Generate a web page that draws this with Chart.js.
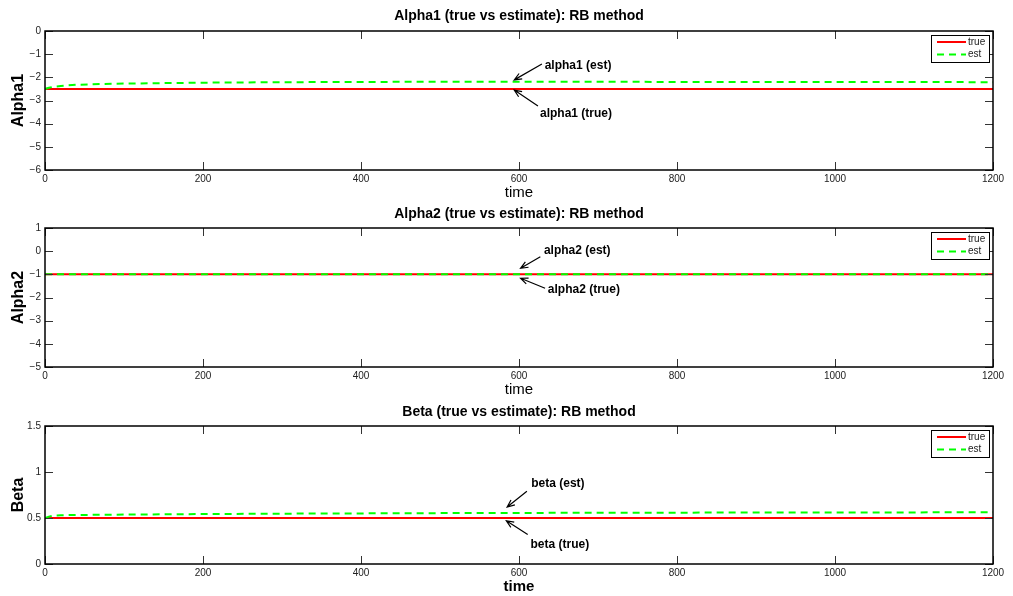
<!DOCTYPE html>
<html>
<head>
<meta charset="utf-8">
<script src="https://cdn.jsdelivr.net/npm/chart.js@4.4.1/dist/chart.umd.min.js"></script>
<style>
  html, body { margin: 0; padding: 0; background: #fff; }
  canvas { display: block; }
</style>
</head>
<body>
<canvas id="alpha1Chart" width="1013" height="200"></canvas>
<canvas id="alpha2Chart" width="1013" height="200"></canvas>
<canvas id="betaChart" width="1013" height="196"></canvas>
<script>
const FONT = "'Liberation Sans', Arial, Helvetica, sans-serif";

// time grid shared by all three panels
const timeSteps = [0, 5, 10, 20, 40, 70, 100, 200, 300, 400, 500, 600, 700, 800, 900, 1000, 1100, 1200];

const alpha1True = [-2.5, -2.5, -2.5, -2.5, -2.5, -2.5, -2.5, -2.5, -2.5, -2.5, -2.5, -2.5, -2.5, -2.5, -2.5, -2.5, -2.5, -2.5];
const alpha1Est = [-2.5, -2.45, -2.41, -2.37, -2.32, -2.29, -2.27, -2.23, -2.21, -2.2, -2.19, -2.19, -2.19, -2.2, -2.2, -2.2, -2.2, -2.21];

const alpha2True = [-1, -1, -1, -1, -1, -1, -1, -1, -1, -1, -1, -1, -1, -1, -1, -1, -1, -1];
const alpha2Est = [-1, -1, -1, -1, -1, -1, -1, -1, -1, -1, -1, -1, -1, -1, -1, -1, -1, -1];

const betaTrue = [0.5, 0.5, 0.5, 0.5, 0.5, 0.5, 0.5, 0.5, 0.5, 0.5, 0.5, 0.5, 0.5, 0.5, 0.5, 0.5, 0.5, 0.5];
const betaEst = [0.5, 0.515, 0.525, 0.53, 0.533, 0.535, 0.537, 0.543, 0.547, 0.55, 0.553, 0.555, 0.557, 0.558, 0.56, 0.56, 0.561, 0.562];

const xTicks = [0, 200, 400, 600, 800, 1000, 1200];
const alpha1Ticks = [-6, -5, -4, -3, -2, -1, 0];
const alpha2Ticks = [-5, -4, -3, -2, -1, 0, 1];
const betaTicks = [0, 0.5, 1, 1.5];

function points(values) {
    return values.map((v, i) => ({ x: timeSteps[i], y: v }));
}

function minusSign(v) {
    return String(v).replace('-', '\u2212');
}

// box around the axes with inward ticks on every side
const framePlugin = {
    id: 'frameTicks',
    afterDatasetsDraw(chart) {
        const { ctx, chartArea: a, scales: { x, y } } = chart;
        const len = 8;
        ctx.save();
        ctx.strokeStyle = '#333';
        ctx.lineWidth = 1;
        ctx.beginPath();
        x.ticks.forEach(t => {
            const px = Math.round(x.getPixelForValue(t.value)) + 0.5;
            ctx.moveTo(px, a.bottom); ctx.lineTo(px, a.bottom - len);
            ctx.moveTo(px, a.top); ctx.lineTo(px, a.top + len);
        });
        y.ticks.forEach(t => {
            const py = Math.round(y.getPixelForValue(t.value)) + 0.5;
            ctx.moveTo(a.left, py); ctx.lineTo(a.left + len, py);
            ctx.moveTo(a.right, py); ctx.lineTo(a.right - len, py);
        });
        ctx.stroke();
        ctx.strokeStyle = '#000';
        ctx.lineWidth = 1.5;
        ctx.strokeRect(a.left, a.top, a.right - a.left, a.bottom - a.top);
        ctx.restore();
    }
};

// small legend box in the upper right corner of the axes
const boxLegendPlugin = {
    id: 'boxLegend',
    afterDatasetsDraw(chart) {
        const { ctx, chartArea: a } = chart;
        const sets = chart.data.datasets;
        const w = 58, rowH = 12.5;
        const h = sets.length * rowH + 2;
        const bx = a.right - w - 4, by = a.top + 4;
        ctx.save();
        ctx.fillStyle = '#fff';
        ctx.fillRect(bx, by, w, h);
        ctx.strokeStyle = '#000';
        ctx.lineWidth = 1;
        ctx.strokeRect(bx + 0.5, by + 0.5, w, h);
        ctx.font = '10px ' + FONT;
        ctx.textBaseline = 'middle';
        sets.forEach((ds, i) => {
            const cy = by + 7 + i * rowH;
            ctx.strokeStyle = ds.borderColor;
            ctx.lineWidth = ds.borderWidth;
            ctx.setLineDash(ds.borderDash || []);
            ctx.beginPath();
            ctx.moveTo(bx + 6, cy);
            ctx.lineTo(bx + 35, cy);
            ctx.stroke();
            ctx.setLineDash([]);
            ctx.fillStyle = '#222';
            ctx.fillText(ds.label, bx + 37, cy);
        });
        ctx.restore();
    }
};

// text notes with arrows, placed in data units
const arrowNotesPlugin = {
    id: 'arrowNotes',
    afterDatasetsDraw(chart, args, opts) {
        const { ctx, scales: { x, y } } = chart;
        ctx.save();
        ctx.font = 'bold 12px ' + FONT;
        ctx.textBaseline = 'middle';
        ctx.fillStyle = '#000';
        ctx.strokeStyle = '#000';
        ctx.lineWidth = 1.2;
        (opts.items || []).forEach(n => {
            ctx.fillText(n.text, x.getPixelForValue(n.tx) + 2, y.getPixelForValue(n.ty));
            const x0 = x.getPixelForValue(n.from[0]), y0 = y.getPixelForValue(n.from[1]);
            const x1 = x.getPixelForValue(n.to[0]), y1 = y.getPixelForValue(n.to[1]);
            const ang = Math.atan2(y1 - y0, x1 - x0);
            const head = 8, spread = 0.4;
            ctx.beginPath();
            ctx.moveTo(x0, y0);
            ctx.lineTo(x1, y1);
            ctx.moveTo(x1 - head * Math.cos(ang - spread), y1 - head * Math.sin(ang - spread));
            ctx.lineTo(x1, y1);
            ctx.lineTo(x1 - head * Math.cos(ang + spread), y1 - head * Math.sin(ang + spread));
            ctx.stroke();
        });
        ctx.restore();
    }
};

function makePanel(id, cfg) {
    const ctx = document.getElementById(id).getContext('2d');
    return new Chart(ctx, {
        type: 'line',
        data: {
            datasets: [{
                label: 'true',
                data: points(cfg.trueValues),
                borderColor: '#ff0000',
                borderWidth: 2,
                pointRadius: 0,
                tension: 0,
                order: 1
            }, {
                label: 'est',
                data: points(cfg.estValues),
                borderColor: '#00ff00',
                borderWidth: 2,
                borderDash: [7, 5],
                pointRadius: 0,
                tension: 0,
                order: 0
            }]
        },
        options: {
            responsive: false,
            animation: false,
            events: [],
            layout: { padding: { left: 0, right: 20, top: 0, bottom: 0 } },
            plugins: {
                legend: { display: false },
                tooltip: { enabled: false },
                title: {
                    display: true,
                    text: cfg.title,
                    fullSize: false,
                    color: '#000',
                    font: { family: FONT, size: 14, weight: 'bold', lineHeight: 1.2 },
                    padding: { top: cfg.titlePad[0], bottom: cfg.titlePad[1] }
                },
                arrowNotes: { items: cfg.notes }
            },
            scales: {
                x: {
                    type: 'linear',
                    min: 0,
                    max: 1200,
                    afterBuildTicks: s => { s.ticks = xTicks.map(v => ({ value: v })); },
                    afterFit: s => { s.height = cfg.xAxisHeight; },
                    grid: { display: false, drawTicks: false, tickLength: 0 },
                    border: { display: false },
                    ticks: {
                        color: '#222',
                        padding: 3,
                        maxRotation: 0,
                        autoSkip: false,
                        font: { family: FONT, size: 10 },
                        callback: v => String(v)
                    },
                    title: {
                        display: true,
                        text: 'time',
                        color: '#000',
                        font: { family: FONT, size: 15, weight: cfg.xTitleWeight, lineHeight: 1 },
                        padding: { top: 0, bottom: cfg.xTitlePad }
                    }
                },
                y: {
                    type: 'linear',
                    min: cfg.yTicks[0],
                    max: cfg.yTicks[cfg.yTicks.length - 1],
                    afterBuildTicks: s => { s.ticks = cfg.yTicks.map(v => ({ value: v })); },
                    afterFit: s => { s.width = 45; },
                    grid: { display: false, drawTicks: false, tickLength: 0 },
                    border: { display: false },
                    ticks: {
                        color: '#222',
                        padding: 4,
                        autoSkip: false,
                        font: { family: FONT, size: 10 },
                        callback: v => minusSign(v)
                    },
                    title: {
                        display: true,
                        text: cfg.yTitle,
                        color: '#000',
                        font: { family: FONT, size: 16, weight: 'bold', lineHeight: 1.2 },
                        padding: { top: 8.5, bottom: 0 }
                    }
                }
            }
        },
        plugins: [framePlugin, boxLegendPlugin, arrowNotesPlugin]
    });
}

makePanel('alpha1Chart', {
    title: 'Alpha1 (true vs estimate): RB method',
    yTitle: 'Alpha1',
    trueValues: alpha1True,
    estValues: alpha1Est,
    yTicks: alpha1Ticks,
    titlePad: [7.6, 6.6],
    xAxisHeight: 30,
    xTitlePad: 0,
    xTitleWeight: 'normal',
    notes: [
        { text: 'alpha1 (est)', tx: 630, ty: -1.51, from: [629, -1.42], to: [594, -2.11] },
        { text: 'alpha1 (true)', tx: 624, ty: -3.58, from: [624, -3.24], to: [594, -2.55] }
    ]
});

makePanel('alpha2Chart', {
    title: 'Alpha2 (true vs estimate): RB method',
    yTitle: 'Alpha2',
    trueValues: alpha2True,
    estValues: alpha2Est,
    yTicks: alpha2Ticks,
    titlePad: [5.6, 5.6],
    xAxisHeight: 33,
    xTitlePad: 2.5,
    xTitleWeight: 'normal',
    notes: [
        { text: 'alpha2 (est)', tx: 629, ty: 0.02, from: [627, -0.24], to: [602, -0.74] },
        { text: 'alpha2 (true)', tx: 634, ty: -1.68, from: [633, -1.6], to: [602, -1.17] }
    ]
});

makePanel('betaChart', {
    title: 'Beta (true vs estimate): RB method',
    yTitle: 'Beta',
    trueValues: betaTrue,
    estValues: betaEst,
    yTicks: betaTicks,
    titlePad: [3.3, 5.9],
    xAxisHeight: 32,
    xTitlePad: 1.8,
    xTitleWeight: 'bold',
    notes: [
        { text: 'beta (est)', tx: 613, ty: 0.87, from: [610, 0.79], to: [585, 0.62] },
        { text: 'beta (true)', tx: 612, ty: 0.21, from: [611, 0.32], to: [584, 0.47] }
    ]
});
</script>
</body>
</html>
